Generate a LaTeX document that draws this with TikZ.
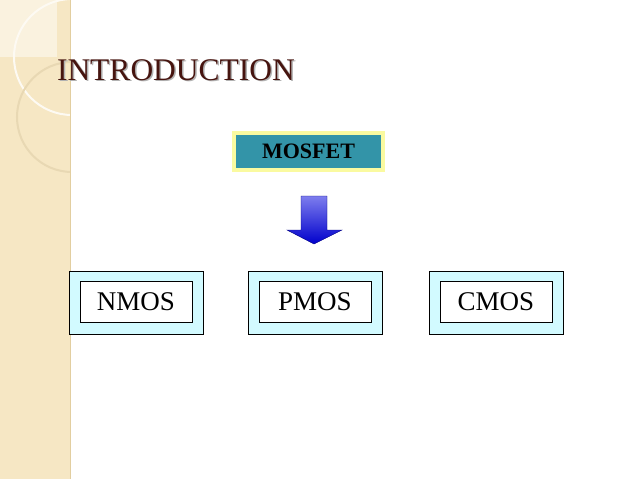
\documentclass[tikz,border=0pt]{standalone}
\usepackage{fontspec}
\setmainfont{Liberation Serif}
\usetikzlibrary{positioning}
\definecolor{strip}{RGB}{246,231,196}
\definecolor{stripline}{RGB}{226,206,160}
\definecolor{titlebrown}{RGB}{70,20,15}
\definecolor{teal}{RGB}{51,148,168}
\definecolor{yellowrim}{RGB}{250,250,160}
\definecolor{cyanbox}{RGB}{210,250,255}
\definecolor{arrowblue}{RGB}{70,70,230}
\tikzset{
  outerbox/.style={draw=black, fill=cyanbox, minimum width=134pt, minimum height=63pt},
  innerbox/.style={draw=black, fill=white, minimum width=112pt, minimum height=41pt, font=\fontsize{27}{30}\selectfont},
}
\begin{document}
\begin{tikzpicture}[x=1pt,y=-1pt]
		\useasboundingbox (0,0) rectangle (638,479);
		\fill[white] (0,0) rectangle (638,479);
		% left strip
		\fill[strip] (0,0) rectangle (70,479);
		\fill[strip!55!white] (0,0) rectangle (57,57);
		\begin{scope}
			\clip (0,0) rectangle (70,479);
			\draw[white!80!strip, line width=2pt] (72,57) circle (58);
			\draw[stripline!80!white, line width=2pt] (72,117) circle (55);
		\end{scope}
		\draw[stripline] (70,0) -- (70,479);
		% title
		\node[text=gray!60, font=\fontsize{31.5}{34}\selectfont] at (177.5,71.5) {INTRODUCTION};
		\node[text=titlebrown, font=\fontsize{31.5}{34}\selectfont] (title) at (176,70) {INTRODUCTION};
		% top box
		\node[draw=yellowrim, line width=4pt, fill=teal, minimum width=149pt, minimum height=37pt, font=\bfseries\fontsize{22}{25}\selectfont] (mosfet) at (308.5,151.5) {MOSFET};
		% arrow
		\shade[top color=arrowblue!70!white, bottom color=blue!80!black, draw=blue!50!black]
			(301,196) -- (327,196) -- (327,230) -- (342,230) -- (314,244) -- (287,230) -- (301,230) -- cycle;
		% bottom boxes
		\foreach \name/\x in {NMOS/136, PMOS/315, CMOS/496} {
			\node[outerbox] (\name out) at (\x,302.5) {};
			\node[innerbox] (\name) at (\x,301.5) {\name};
		}
\end{tikzpicture}
\end{document}
